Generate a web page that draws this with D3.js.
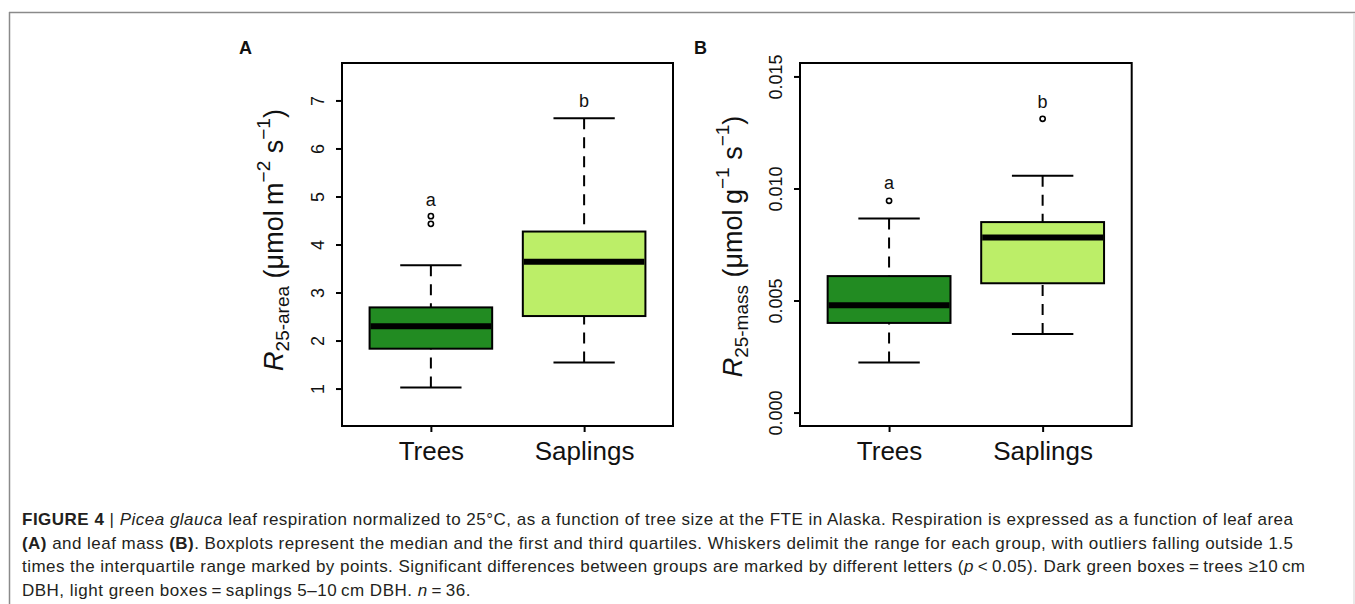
<!DOCTYPE html>
<html>
<head>
<meta charset="utf-8">
<script src="https://cdn.jsdelivr.net/npm/d3@7"></script>
<style>
  html, body { margin: 0; padding: 0; background: #fff; }
  svg { display: block; font-family: "Liberation Sans", Arial, Helvetica, sans-serif; }
</style>
</head>
<body>
<svg id="chart" width="1355" height="604"></svg>
<script>
// ---------- DATA ----------
const groups = ["Trees", "Saplings"];
const groupPos = [1, 2];
const boxColors = ["#228B22", "#BCEE68"];

// stats: [lower whisker, Q1, median, Q3, upper whisker]
const areaStats = [
  [1.02, 1.83, 2.30, 2.69, 3.57],
  [1.54, 2.51, 3.64, 4.27, 6.63]
];
const areaOutliers = [[4.43, 4.59], []];
const areaLetters = ["a", "b"];
const areaLetterY = [4.80, 6.86];
const areaTicks = [1, 2, 3, 4, 5, 6, 7];
const areaTickLabels = ["1", "2", "3", "4", "5", "6", "7"];

const massStats = [
  [0.00223, 0.00400, 0.00479, 0.00609, 0.00866],
  [0.00351, 0.00577, 0.00781, 0.00850, 0.01057]
];
const massOutliers = [[0.00945], [0.01311]];
const massLetters = ["a", "b"];
const massLetterY = [0.00998, 0.01361];
const massTicks = [0, 0.005, 0.010, 0.015];
const massTickLabels = ["0.000", "0.005", "0.010", "0.015"];

const captionLines = [
  [["b", "FIGURE 4"], ["n", " | "], ["i", "Picea glauca"], ["n", " leaf respiration normalized to 25°C, as a function of tree size at the FTE in Alaska. Respiration is expressed as a function of leaf area"]],
  [["b", "(A)"], ["n", " and leaf mass "], ["b", "(B)"], ["n", ". Boxplots represent the median and the first and third quartiles. Whiskers delimit the range for each group, with outliers falling outside 1.5"]],
  [["n", "times the interquartile range marked by points. Significant differences between groups are marked by different letters ("], ["i", "p"], ["n", "\u2009<\u20090.05). Dark green boxes\u2009=\u2009trees \u226510\u2009cm"]],
  [["n", "DBH, light green boxes\u2009=\u2009saplings 5\u201310\u2009cm DBH. "], ["i", "n"], ["n", "\u2009=\u200936."]]
];

// ---------- DRAW ----------
const svg = d3.select("#chart");

// outer frame
svg.append("line").attr("x1", 9).attr("x2", 1355).attr("y1", 12.5).attr("y2", 12.5)
  .attr("stroke", "#8a8a8a").attr("stroke-width", 1.5);
svg.append("line").attr("x1", 9.5).attr("x2", 9.5).attr("y1", 12).attr("y2", 604)
  .attr("stroke", "#8a8a8a").attr("stroke-width", 1.5);
svg.append("line").attr("x1", 1354).attr("x2", 1354).attr("y1", 13).attr("y2", 604)
  .attr("stroke", "#e2e2e2").attr("stroke-width", 1.5);

function panel(cfg) {
  const top = 63, bottom = 426;
  const x = d3.scaleLinear().domain([0.42, 2.58]).range([cfg.left, cfg.right]);
  const y = d3.scaleLinear().domain(cfg.domain).range([bottom, top]);
  const g = svg.append("g");
  const bw = 0.8;

  groups.forEach((name, i) => {
    const s = cfg.stats[i];
    const cx = x(groupPos[i]);
    const x0 = x(groupPos[i] - bw / 2), x1 = x(groupPos[i] + bw / 2);
    const c0 = x(groupPos[i] - bw / 4), c1 = x(groupPos[i] + bw / 4);
    // whiskers (dashed), drawn from whisker end to box
    g.append("line").attr("x1", cx).attr("x2", cx).attr("y1", y(s[0])).attr("y2", y(s[1]))
      .attr("stroke", "#000").attr("stroke-width", 2).attr("stroke-dasharray", "11 8");
    g.append("line").attr("x1", cx).attr("x2", cx).attr("y1", y(s[4])).attr("y2", y(s[3]))
      .attr("stroke", "#000").attr("stroke-width", 2).attr("stroke-dasharray", "11 8");
    // caps
    [s[0], s[4]].forEach(v => {
      g.append("line").attr("x1", c0).attr("x2", c1).attr("y1", y(v)).attr("y2", y(v))
        .attr("stroke", "#000").attr("stroke-width", 2);
    });
    // box
    g.append("rect").attr("x", x0).attr("y", y(s[3]))
      .attr("width", x1 - x0).attr("height", y(s[1]) - y(s[3]))
      .attr("fill", boxColors[i]).attr("stroke", "#000").attr("stroke-width", 2);
    // median
    g.append("line").attr("x1", x0 + 1).attr("x2", x1 - 1).attr("y1", y(s[2])).attr("y2", y(s[2]))
      .attr("stroke", "#000").attr("stroke-width", 6);
    // outliers
    cfg.outliers[i].forEach(v => {
      g.append("circle").attr("cx", cx).attr("cy", y(v)).attr("r", 2.6)
        .attr("fill", "none").attr("stroke", "#000").attr("stroke-width", 1.6);
    });
    // significance letters
    g.append("text").attr("x", cx).attr("y", y(cfg.letterY[i]))
      .attr("text-anchor", "middle").attr("font-size", 18).attr("fill", "#111")
      .text(cfg.letters[i]);
  });

  // plot frame
  g.append("rect").attr("x", cfg.left).attr("y", top)
    .attr("width", cfg.right - cfg.left).attr("height", bottom - top)
    .attr("fill", "none").attr("stroke", "#000").attr("stroke-width", 2);

  // y axis
  const yAxis = d3.axisLeft(y).tickValues(cfg.ticks).tickSize(6)
    .tickFormat((d, i) => cfg.tickLabels[i]);
  const ya = g.append("g").attr("transform", `translate(${cfg.left},0)`).call(yAxis);
  ya.select(".domain").remove();
  ya.selectAll(".tick line").attr("stroke", "#000").attr("stroke-width", 2);
  ya.selectAll(".tick text")
    .attr("font-size", 18).attr("font-family", "Liberation Sans, Arial, sans-serif").attr("fill", "#111")
    .attr("x", 0).attr("dy", null).attr("y", 0)
    .attr("text-anchor", "middle")
    .attr("transform", "translate(-18,0) rotate(-90)");

  // x axis
  const xAxis = d3.axisBottom(x).tickValues(groupPos).tickSize(6)
    .tickFormat((d, i) => groups[i]);
  const xa = g.append("g").attr("transform", `translate(0,${bottom})`).call(xAxis);
  xa.select(".domain").remove();
  xa.selectAll(".tick line").attr("stroke", "#000").attr("stroke-width", 2);
  xa.selectAll(".tick text")
    .attr("font-size", 26).attr("font-family", "Liberation Sans, Arial, sans-serif").attr("fill", "#111")
    .attr("dy", null).attr("y", 34);

  // y title
  const t = g.append("text")
    .attr("transform", `translate(${cfg.titleX},${cfg.titleY}) rotate(-90)`)
    .attr("text-anchor", "middle").attr("font-size", 27).attr("fill", "#111");
  t.append("tspan").attr("font-style", "italic").text("R");
  t.append("tspan").attr("font-size", 19).attr("dy", 6).text(cfg.sub);
  t.append("tspan").attr("dy", -6).text(" (\u03bcmol\u2009" + cfg.unit);
  t.append("tspan").attr("font-size", 19).attr("dy", -13).text("\u22121");
  if (cfg.unit === "m") {
    // replace sup for area unit below
  }
  t.append("tspan").attr("dy", 13).text(" s");
  t.append("tspan").attr("font-size", 19).attr("dy", -13).text("\u22121");
  t.append("tspan").attr("dy", 13).text(")");
  // fix first superscript exponent
  t.selectAll("tspan").filter((d, i) => i === 3).text(cfg.unitExp);

  // panel letter
  svg.append("text").attr("x", cfg.letterX).attr("y", 53.5)
    .attr("font-size", 18).attr("font-weight", "bold").attr("fill", "#111")
    .text(cfg.panelLabel);
}

panel({
  left: 342, right: 673, domain: [0.22, 7.78],
  stats: areaStats, outliers: areaOutliers, letters: areaLetters, letterY: areaLetterY,
  ticks: areaTicks, tickLabels: areaTickLabels,
  titleX: 283, titleY: 240, sub: "25-area", unit: "m", unitExp: "\u22122",
  letterX: 239, panelLabel: "A"
});
panel({
  left: 800, right: 1131.7, domain: [-0.0006, 0.0156],
  stats: massStats, outliers: massOutliers, letters: massLetters, letterY: massLetterY,
  ticks: massTicks, tickLabels: massTickLabels,
  titleX: 741.5, titleY: 246.5, sub: "25-mass", unit: "g", unitExp: "\u22121",
  letterX: 694, panelLabel: "B"
});

// caption
const capX = 22;
const capBase = [525, 548.5, 572, 595.5];
const capEnd = [1293, 1293, 1305, null];
captionLines.forEach((parts, li) => {
  const txt = svg.append("text").attr("x", capX).attr("y", capBase[li])
    .attr("font-size", 17).attr("fill", "#231f20");
  parts.forEach(([style, s]) => {
    const sp = txt.append("tspan").text(s);
    if (style === "b") sp.attr("font-weight", "bold");
    if (style === "i") sp.attr("font-style", "italic");
  });
  const nChars = parts.map(p => p[1]).join("").length;
  const natural = txt.node().getComputedTextLength();
  const target = capEnd[li] !== null ? capEnd[li] - capX : natural * (1271 / (capEnd[0] ? 1 : 1)) / natural * 0;
  if (capEnd[li] !== null) {
    const ls = (target - natural) / (nChars - 1);
    txt.attr("letter-spacing", ls.toFixed(3));
  }
});
// apply last-line spacing equal to first line's
const cap = svg.selectAll("text").filter(function() { return +this.getAttribute("y") === 595.5; });
const firstLs = svg.selectAll("text").filter(function() { return +this.getAttribute("y") === 525; }).attr("letter-spacing");
cap.attr("letter-spacing", firstLs);
</script>
</body>
</html>
